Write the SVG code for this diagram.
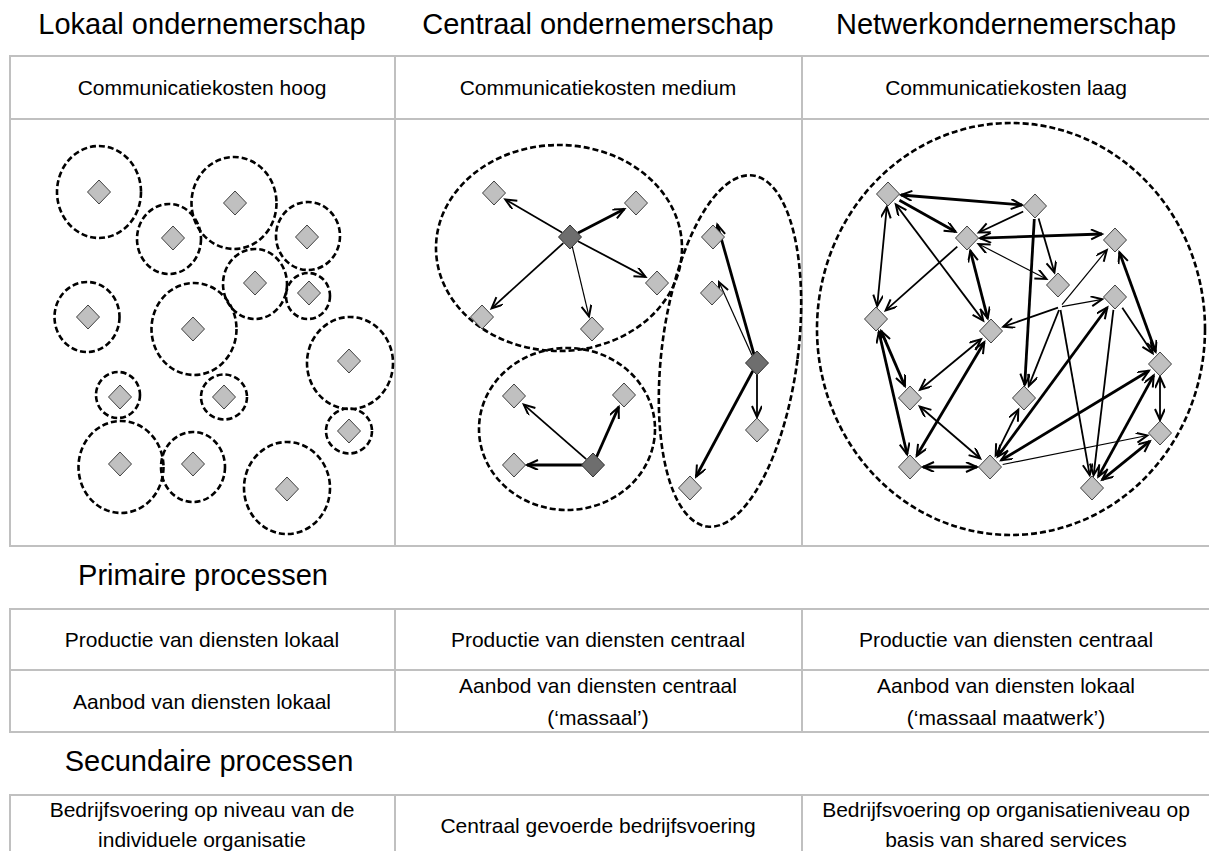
<svg xmlns="http://www.w3.org/2000/svg" xmlns:xlink="http://www.w3.org/1999/xlink" width="1209" height="851" viewBox="0 0 1209 851">
<style>
.t{font-family:"Liberation Sans",Arial,sans-serif;fill:#000}
.h{font-size:29px;text-anchor:middle}
.c{font-size:21px;text-anchor:middle}
.grid{stroke:#c0c0c0;stroke-width:2;fill:none}
.ring{fill:none;stroke:#000;stroke-width:2.6;stroke-dasharray:6 3}
.n{fill:#c0c0c0;stroke:#404040;stroke-width:1}
.hub{fill:#6e6e6e;stroke:#303030;stroke-width:1}
.e{stroke:#000;fill:none;stroke-width:1.8;marker-end:url(#ah)}
.e2{stroke:#000;fill:none;stroke-width:1.8;marker-end:url(#ah);marker-start:url(#ah)}
.tk{stroke-width:2.8}
.tn{stroke-width:1.2}
</style>
<defs>
<path id="dm" d="M0,-12 L11.5,0 L0,12 L-11.5,0Z"/>
<marker id="ah" markerUnits="userSpaceOnUse" markerWidth="15" markerHeight="12" refX="12" refY="5" orient="auto-start-reverse" viewBox="0 0 15 12">
<path d="M1,0 L12,5 L1,10" fill="none" stroke="#000" stroke-width="2"/>
</marker>
</defs>
<rect width="1209" height="851" fill="#fff"/>

<g id="titles" class="t h">
<text x="202" y="34">Lokaal ondernemerschap</text>
<text x="598" y="34">Centraal ondernemerschap</text>
<text x="1006" y="34">Netwerkondernemerschap</text>
<text x="203" y="585">Primaire processen</text>
<text x="209" y="771">Secundaire processen</text>
</g>

<g id="tables" class="grid">
<path d="M9,56H1209M9,119H1209M9,546H1209M10,56V546M395,56V546M802,56V546"/>
<path d="M9,609H1209M9,670H1209M9,732H1209M10,609V732M395,609V732M802,609V732"/>
<path d="M9,795H1209M10,795V851M395,795V851M802,795V851"/>
</g>

<g id="cells" class="t c">
<text x="202" y="95">Communicatiekosten hoog</text>
<text x="598" y="95">Communicatiekosten medium</text>
<text x="1006" y="95">Communicatiekosten laag</text>
<text x="202" y="647">Productie van diensten lokaal</text>
<text x="598" y="647">Productie van diensten centraal</text>
<text x="1006" y="647">Productie van diensten centraal</text>
<text x="202" y="708.5">Aanbod van diensten lokaal</text>
<text x="598" y="692.5">Aanbod van diensten centraal</text>
<text x="598" y="724.5">(‘massaal’)</text>
<text x="1006" y="692.5">Aanbod van diensten lokaal</text>
<text x="1006" y="724.5">(‘massaal maatwerk’)</text>
<text x="202" y="817">Bedrijfsvoering op niveau van de</text>
<text x="202" y="847">individuele organisatie</text>
<text x="598" y="832.5">Centraal gevoerde bedrijfsvoering</text>
<text x="1006" y="817">Bedrijfsvoering op organisatieniveau op</text>
<text x="1006" y="847">basis van shared services</text>
</g>

<!-- Panel 1: local units -->
<g id="p1">
<g id="l1"><ellipse class="ring" cx="99" cy="192" rx="42" ry="46"/><use href="#dm" class="n" x="99" y="192"/></g>
<g id="l2"><ellipse class="ring" cx="169" cy="239" rx="32" ry="35"/><use href="#dm" class="n" x="173" y="238"/></g>
<g id="l3"><ellipse class="ring" cx="234" cy="203" rx="42.5" ry="46"/><use href="#dm" class="n" x="235" y="203"/></g>
<g id="l4"><ellipse class="ring" cx="308" cy="236" rx="32" ry="34"/><use href="#dm" class="n" x="307" y="237"/></g>
<g id="l5"><ellipse class="ring" cx="255" cy="284" rx="32" ry="35"/><use href="#dm" class="n" x="255" y="283"/></g>
<g id="l6"><ellipse class="ring" cx="308" cy="296" rx="22" ry="23"/><use href="#dm" class="n" x="309" y="293"/></g>
<g id="l7"><ellipse class="ring" cx="87" cy="317" rx="32.5" ry="35"/><use href="#dm" class="n" x="88" y="317"/></g>
<g id="l8"><ellipse class="ring" cx="194" cy="329" rx="42.5" ry="46"/><use href="#dm" class="n" x="193" y="329"/></g>
<g id="l9"><ellipse class="ring" cx="350" cy="363" rx="43" ry="46"/><use href="#dm" class="n" x="349" y="361"/></g>
<g id="l10"><ellipse class="ring" cx="118" cy="395" rx="22" ry="23"/><use href="#dm" class="n" x="120" y="397"/></g>
<g id="l11"><ellipse class="ring" cx="224" cy="397" rx="23" ry="22.5"/><use href="#dm" class="n" x="224" y="397"/></g>
<g id="l12"><ellipse class="ring" cx="349" cy="431" rx="23" ry="22.5"/><use href="#dm" class="n" x="349" y="431"/></g>
<g id="l13"><ellipse class="ring" cx="121" cy="467" rx="42.5" ry="46"/><use href="#dm" class="n" x="120" y="464"/></g>
<g id="l14"><ellipse class="ring" cx="193" cy="467" rx="32" ry="35"/><use href="#dm" class="n" x="193" y="464"/></g>
<g id="l15"><ellipse class="ring" cx="287" cy="488" rx="43" ry="46"/><use href="#dm" class="n" x="287" y="489"/></g>
</g>

<!-- Panel 2: central -->
<g id="p2-groups">
<ellipse class="ring" cx="559" cy="248" rx="123" ry="103"/>
<ellipse class="ring" cx="567" cy="429" rx="88" ry="81"/>
<ellipse class="ring" cx="730" cy="351" rx="68" ry="177" transform="rotate(7.4 730 351)"/>
</g>
<g id="p2-edges">
<line class="e" x1="562" y1="232.5" x2="505.3" y2="199.5"/>
<line class="e tk" x1="578" y1="232.9" x2="624.4" y2="209"/>
<line class="e" x1="578" y1="241.2" x2="645.5" y2="276.9"/>
<line class="e" x1="563.3" y1="243.1" x2="491.6" y2="308.3"/>
<line class="e tn" x1="572.1" y1="245.8" x2="589" y2="316.4"/>
<line class="e" x1="586.2" y1="459.1" x2="523.8" y2="404.6"/>
<line class="e tk" x1="596.6" y1="456.8" x2="618.7" y2="406.9"/>
<line class="e tk" x1="584" y1="465" x2="527" y2="465"/>
<line class="e tk" x1="754" y1="354.5" x2="717.3" y2="224.7"/>
<line class="e tn" x1="752.1" y1="355.4" x2="719" y2="282.1"/>
<line class="e" x1="757" y1="372" x2="757" y2="417"/>
<line class="e tk" x1="752.8" y1="371" x2="696.1" y2="476.5"/>
</g>
<g id="p2-nodes">
<g id="c-hub1"><use href="#dm" class="hub" x="570" y="237"/></g>
<g id="c1"><use href="#dm" class="n" x="494" y="193"/></g>
<g id="c2"><use href="#dm" class="n" x="636" y="203"/></g>
<g id="c3"><use href="#dm" class="n" x="657" y="283"/></g>
<g id="c4"><use href="#dm" class="n" x="482" y="317"/></g>
<g id="c5"><use href="#dm" class="n" x="592" y="329"/></g>
<g id="c-hub2"><use href="#dm" class="hub" x="593" y="465"/></g>
<g id="c6"><use href="#dm" class="n" x="514" y="396"/></g>
<g id="c7"><use href="#dm" class="n" x="624" y="395"/></g>
<g id="c8"><use href="#dm" class="n" x="514" y="465"/></g>
<g id="c-hub3"><use href="#dm" class="hub" x="757" y="363"/></g>
<g id="c9"><use href="#dm" class="n" x="713" y="237"/></g>
<g id="c10"><use href="#dm" class="n" x="712" y="293"/></g>
<g id="c11"><use href="#dm" class="n" x="757" y="430"/></g>
<g id="c12"><use href="#dm" class="n" x="690" y="488"/></g>
</g>

<!-- Panel 3: network -->
<g id="p3-group"><ellipse class="ring" cx="1011" cy="329" rx="194" ry="206"/></g>
<g id="p3-edges">
<line class="e2 tk" x1="901" y1="195" x2="1022" y2="205"/>
<line class="e tk" x1="899.4" y1="200.3" x2="955.6" y2="231.7"/>
<line class="e" x1="1023.2" y1="211.5" x2="978.8" y2="232.5"/>
<line class="e" x1="1038.6" y1="218.5" x2="1054.4" y2="272.5"/>
<line class="e tk" x1="1034.3" y1="219" x2="1024.7" y2="385"/>
<line class="e2 tk" x1="980" y1="238.2" x2="1102" y2="234"/>
<line class="e2" x1="886.8" y1="206.9" x2="877.2" y2="306.1"/>
<line class="e2" x1="895.8" y1="204.4" x2="983.2" y2="320.6"/>
<line class="e" x1="957.3" y1="246.6" x2="885.7" y2="310.4"/>
<line class="e2 tk" x1="970.3" y1="250.6" x2="987.7" y2="318.4"/>
<line class="e2 tn" x1="1046.4" y1="279" x2="978.6" y2="244"/>
<line class="e2 tk" x1="1119.4" y1="252.2" x2="1155.6" y2="351.8"/>
<line class="e tn" x1="1062" y1="304.7" x2="1106.8" y2="250"/>
<line class="e tn" x1="1062" y1="306.6" x2="1102.2" y2="299.3"/>
<line class="e" x1="1058" y1="307.7" x2="1003.3" y2="326.7"/>
<line class="e" x1="1060.5" y1="310" x2="1089.7" y2="475.2"/>
<line class="e" x1="1059" y1="310" x2="1028.8" y2="385.9"/>
<line class="e2 tk" x1="1107.3" y1="307.5" x2="997.7" y2="456.5"/>
<line class="e" x1="1113.4" y1="309.9" x2="1093.6" y2="475.1"/>
<line class="e" x1="1122.3" y1="307.8" x2="1152.7" y2="353.2"/>
<line class="e2 tk" x1="881.1" y1="330.9" x2="904.9" y2="386.1"/>
<line class="e2 tk" x1="878.9" y1="331.7" x2="907.1" y2="454.3"/>
<line class="e2" x1="920" y1="389.7" x2="981" y2="339.3"/>
<line class="e2 tk" x1="984.3" y1="342.2" x2="916.7" y2="455.8"/>
<line class="e2" x1="919.8" y1="406.5" x2="980.2" y2="458.5"/>
<line class="e2 tk" x1="923" y1="467" x2="977" y2="467"/>
<line class="e2" x1="995.7" y1="455.3" x2="1018.3" y2="409.7"/>
<line class="e2 tk" x1="1001.1" y1="460.3" x2="1148.9" y2="370.7"/>
<line class="e tn" x1="1002.7" y1="464.5" x2="1147.3" y2="435.5"/>
<line class="e2" x1="1160" y1="377" x2="1160" y2="420"/>
<line class="e2 tk" x1="1153.7" y1="375.4" x2="1098.3" y2="476.6"/>
<line class="e2 tk" x1="1149.9" y1="441.2" x2="1102.1" y2="479.8"/>
</g>
<g id="p3-nodes">
<g id="nA"><use href="#dm" class="n" x="888" y="194"/></g>
<g id="nB"><use href="#dm" class="n" x="1035" y="206"/></g>
<g id="nC"><use href="#dm" class="n" x="967" y="238"/></g>
<g id="nD"><use href="#dm" class="n" x="1115" y="240"/></g>
<g id="nE"><use href="#dm" class="n" x="1058" y="285"/></g>
<g id="nF"><use href="#dm" class="n" x="1115" y="297"/></g>
<g id="nG"><use href="#dm" class="n" x="876" y="319"/></g>
<g id="nH"><use href="#dm" class="n" x="991" y="331"/></g>
<g id="nI"><use href="#dm" class="n" x="1160" y="364"/></g>
<g id="nJ"><use href="#dm" class="n" x="910" y="398"/></g>
<g id="nK"><use href="#dm" class="n" x="1024" y="398"/></g>
<g id="nL"><use href="#dm" class="n" x="1160" y="433"/></g>
<g id="nM"><use href="#dm" class="n" x="910" y="467"/></g>
<g id="nN"><use href="#dm" class="n" x="990" y="467"/></g>
<g id="nO"><use href="#dm" class="n" x="1092" y="488"/></g>
</g>
</svg>
